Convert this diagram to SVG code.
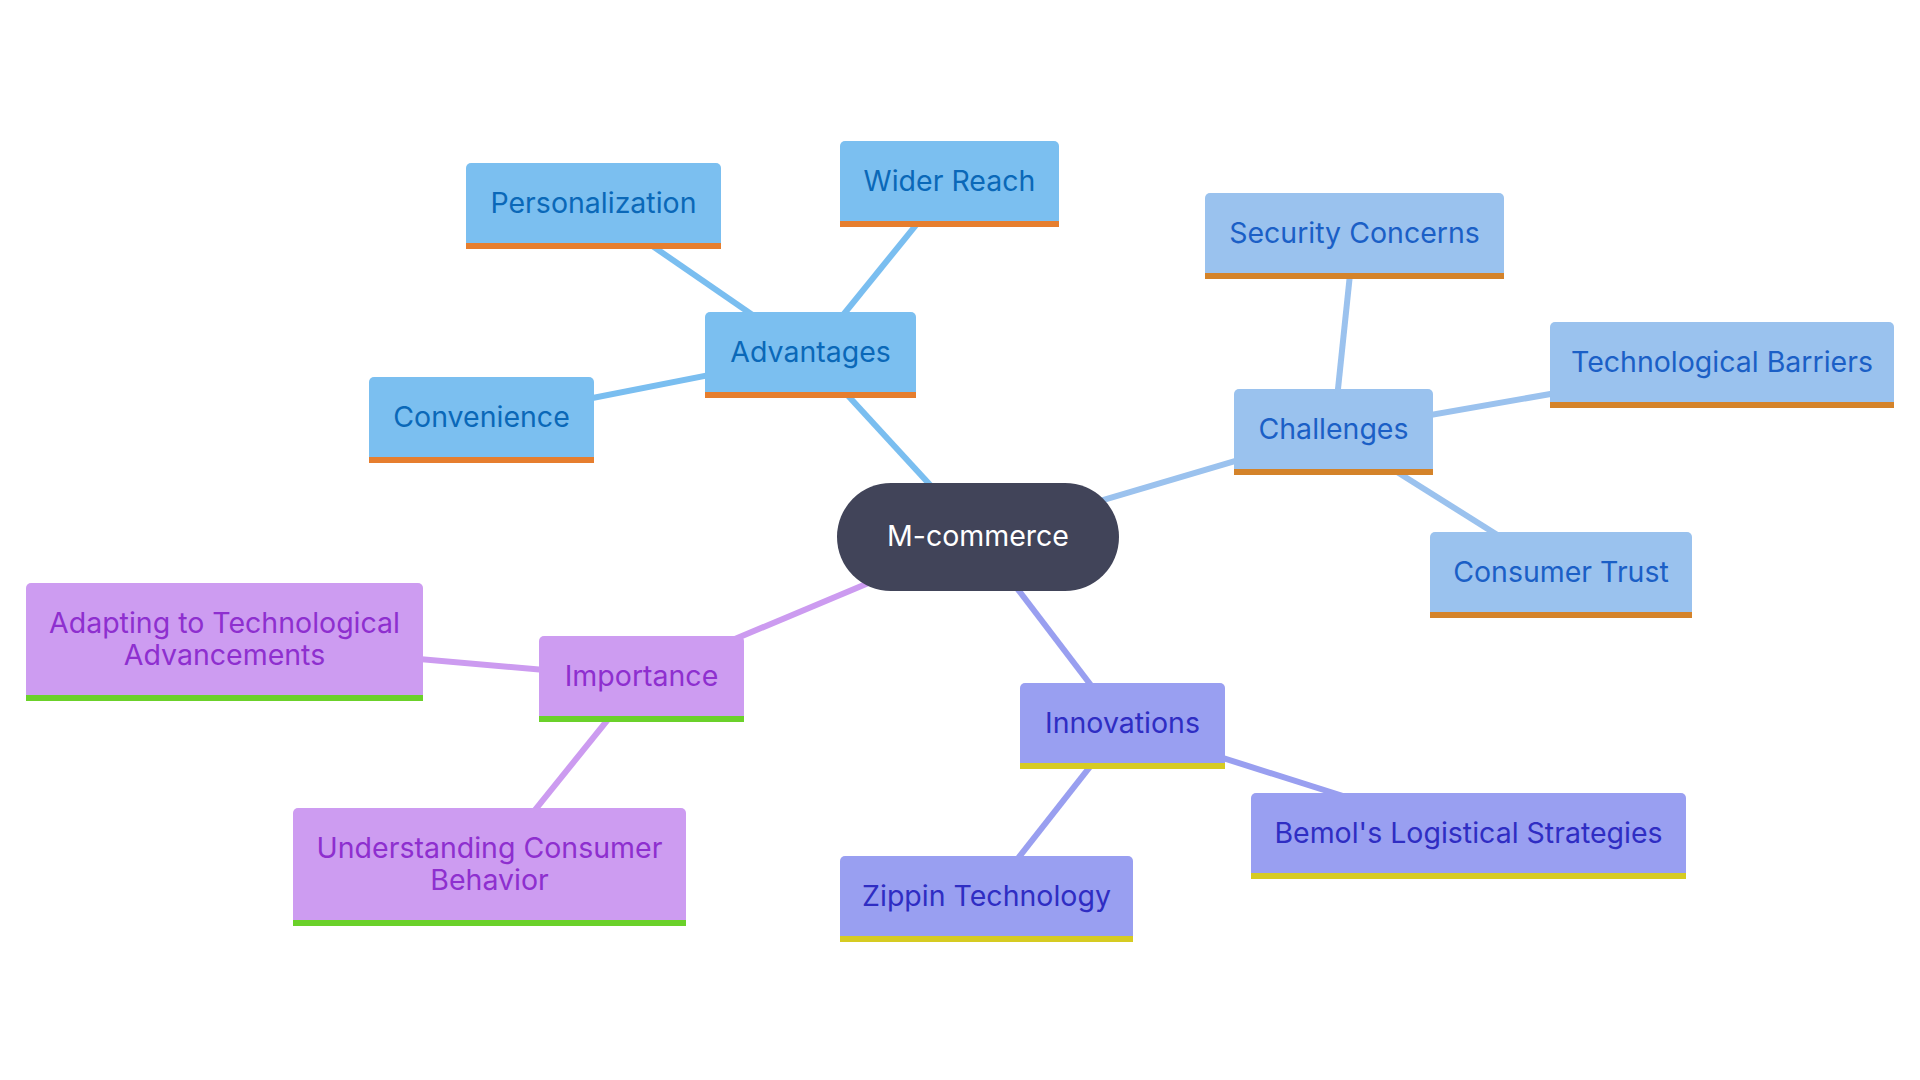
<svg xmlns="http://www.w3.org/2000/svg" width="1920" height="1080" viewBox="0 0 1920 1080">
<style>
text{font-family:Inter,"Noto Sans",sans-serif;font-size:28.5px;text-anchor:middle;dominant-baseline:central}
.l{fill:none;stroke-width:6;stroke-linecap:butt}
.la{stroke:#7abef0}.lc{stroke:#9bc2ee}.li{stroke:#cc9bf0}.ln{stroke:#999ff0}
.fa{fill:#7bbff0}.fc{fill:#9ac2ee}.fi{fill:#cd9cf1}.fn{fill:#999ff1}
.ba{fill:#e67e2e}.bc{fill:#d4832a}.bi{fill:#6bd12a}.bn{fill:#d6cb22}
.ta{fill:#0a68b8}.tc{fill:#1b5fc6}.ti{fill:#8e2fcf}.tn{fill:#2f2dc3}
</style>
<rect width="1920" height="1080" fill="#ffffff"/>
<g id="connectors">
<line class="l la" x1="978" y1="537" x2="810.6" y2="355"/>
<line class="l la" x1="810.6" y1="355" x2="594" y2="205.7"/>
<line class="l la" x1="810.6" y1="355" x2="949.6" y2="183.6"/>
<line class="l la" x1="810.6" y1="355" x2="481" y2="420"/>
<line class="l lc" x1="978" y1="537" x2="1333.5" y2="432"/>
<line class="l lc" x1="1333.5" y1="432" x2="1354" y2="236"/>
<line class="l lc" x1="1333.5" y1="432" x2="1722" y2="364"/>
<line class="l lc" x1="1333.5" y1="432" x2="1561" y2="575"/>
<line class="l li" x1="978" y1="537" x2="641" y2="678.5"/>
<line class="l li" x1="641" y1="678.5" x2="224" y2="641.8"/>
<line class="l li" x1="641" y1="678.5" x2="489" y2="867"/>
<line class="l ln" x1="978" y1="537" x2="1122" y2="726"/>
<line class="l ln" x1="1122" y1="726" x2="1469" y2="836"/>
<line class="l ln" x1="1122" y1="726" x2="986" y2="899"/>
</g>
<g id="root">
<rect x="837" y="483" width="282" height="108" rx="54" fill="#414459"/>
<text x="978" y="535" fill="#ffffff" font-size="30.5">M-commerce</text>
</g>
<g id="advantages">
<rect class="fa" x="705" y="312" width="211" height="86" rx="5"/>
<rect class="ba" x="705" y="392" width="211" height="6"/>
<text class="ta" x="810.6" y="351.5">Advantages</text>
</g>
<g id="personalization">
<rect class="fa" x="466" y="163" width="255" height="86" rx="5"/>
<rect class="ba" x="466" y="243" width="255" height="6"/>
<text class="ta" x="593.5" y="202">Personalization</text>
</g>
<g id="wider-reach">
<rect class="fa" x="840" y="141" width="219" height="86" rx="5"/>
<rect class="ba" x="840" y="221" width="219" height="6"/>
<text class="ta" x="949.5" y="180">Wider Reach</text>
</g>
<g id="convenience">
<rect class="fa" x="369" y="377" width="225" height="86" rx="5"/>
<rect class="ba" x="369" y="457" width="225" height="6"/>
<text class="ta" x="481.5" y="416">Convenience</text>
</g>
<g id="challenges">
<rect class="fc" x="1234" y="389" width="199" height="86" rx="5"/>
<rect class="bc" x="1234" y="469" width="199" height="6"/>
<text class="tc" x="1333.5" y="428.5">Challenges</text>
</g>
<g id="security-concerns">
<rect class="fc" x="1205" y="193" width="299" height="86" rx="5"/>
<rect class="bc" x="1205" y="273" width="299" height="6"/>
<text class="tc" x="1354.5" y="232.5">Security Concerns</text>
</g>
<g id="technological-barriers">
<rect class="fc" x="1550" y="322" width="344" height="86" rx="5"/>
<rect class="bc" x="1550" y="402" width="344" height="6"/>
<text class="tc" x="1722" y="361">Technological Barriers</text>
</g>
<g id="consumer-trust">
<rect class="fc" x="1430" y="532" width="262" height="86" rx="5"/>
<rect class="bc" x="1430" y="612" width="262" height="6"/>
<text class="tc" x="1561" y="571">Consumer Trust</text>
</g>
<g id="importance">
<rect class="fi" x="539" y="636" width="205" height="86" rx="5"/>
<rect class="bi" x="539" y="716" width="205" height="6"/>
<text class="ti" x="641.5" y="675">Importance</text>
</g>
<g id="adapting">
<rect class="fi" x="26" y="583" width="397" height="118" rx="5"/>
<rect class="bi" x="26" y="695" width="397" height="6"/>
<text class="ti" x="224.5" y="622">Adapting to Technological</text>
<text class="ti" x="224.5" y="654">Advancements</text>
</g>
<g id="understanding">
<rect class="fi" x="293" y="808" width="393" height="118" rx="5"/>
<rect class="bi" x="293" y="920" width="393" height="6"/>
<text class="ti" x="489.5" y="847.5">Understanding Consumer</text>
<text class="ti" x="489.5" y="879.5">Behavior</text>
</g>
<g id="innovations">
<rect class="fn" x="1020" y="683" width="205" height="86" rx="5"/>
<rect class="bn" x="1020" y="763" width="205" height="6"/>
<text class="tn" x="1122.5" y="722.5">Innovations</text>
</g>
<g id="bemol">
<rect class="fn" x="1251" y="793" width="435" height="86" rx="5"/>
<rect class="bn" x="1251" y="873" width="435" height="6"/>
<text class="tn" x="1468.5" y="832.5">Bemol's Logistical Strategies</text>
</g>
<g id="zippin">
<rect class="fn" x="840" y="856" width="293" height="86" rx="5"/>
<rect class="bn" x="840" y="936" width="293" height="6"/>
<text class="tn" x="986.5" y="895">Zippin Technology</text>
</g>
</svg>
